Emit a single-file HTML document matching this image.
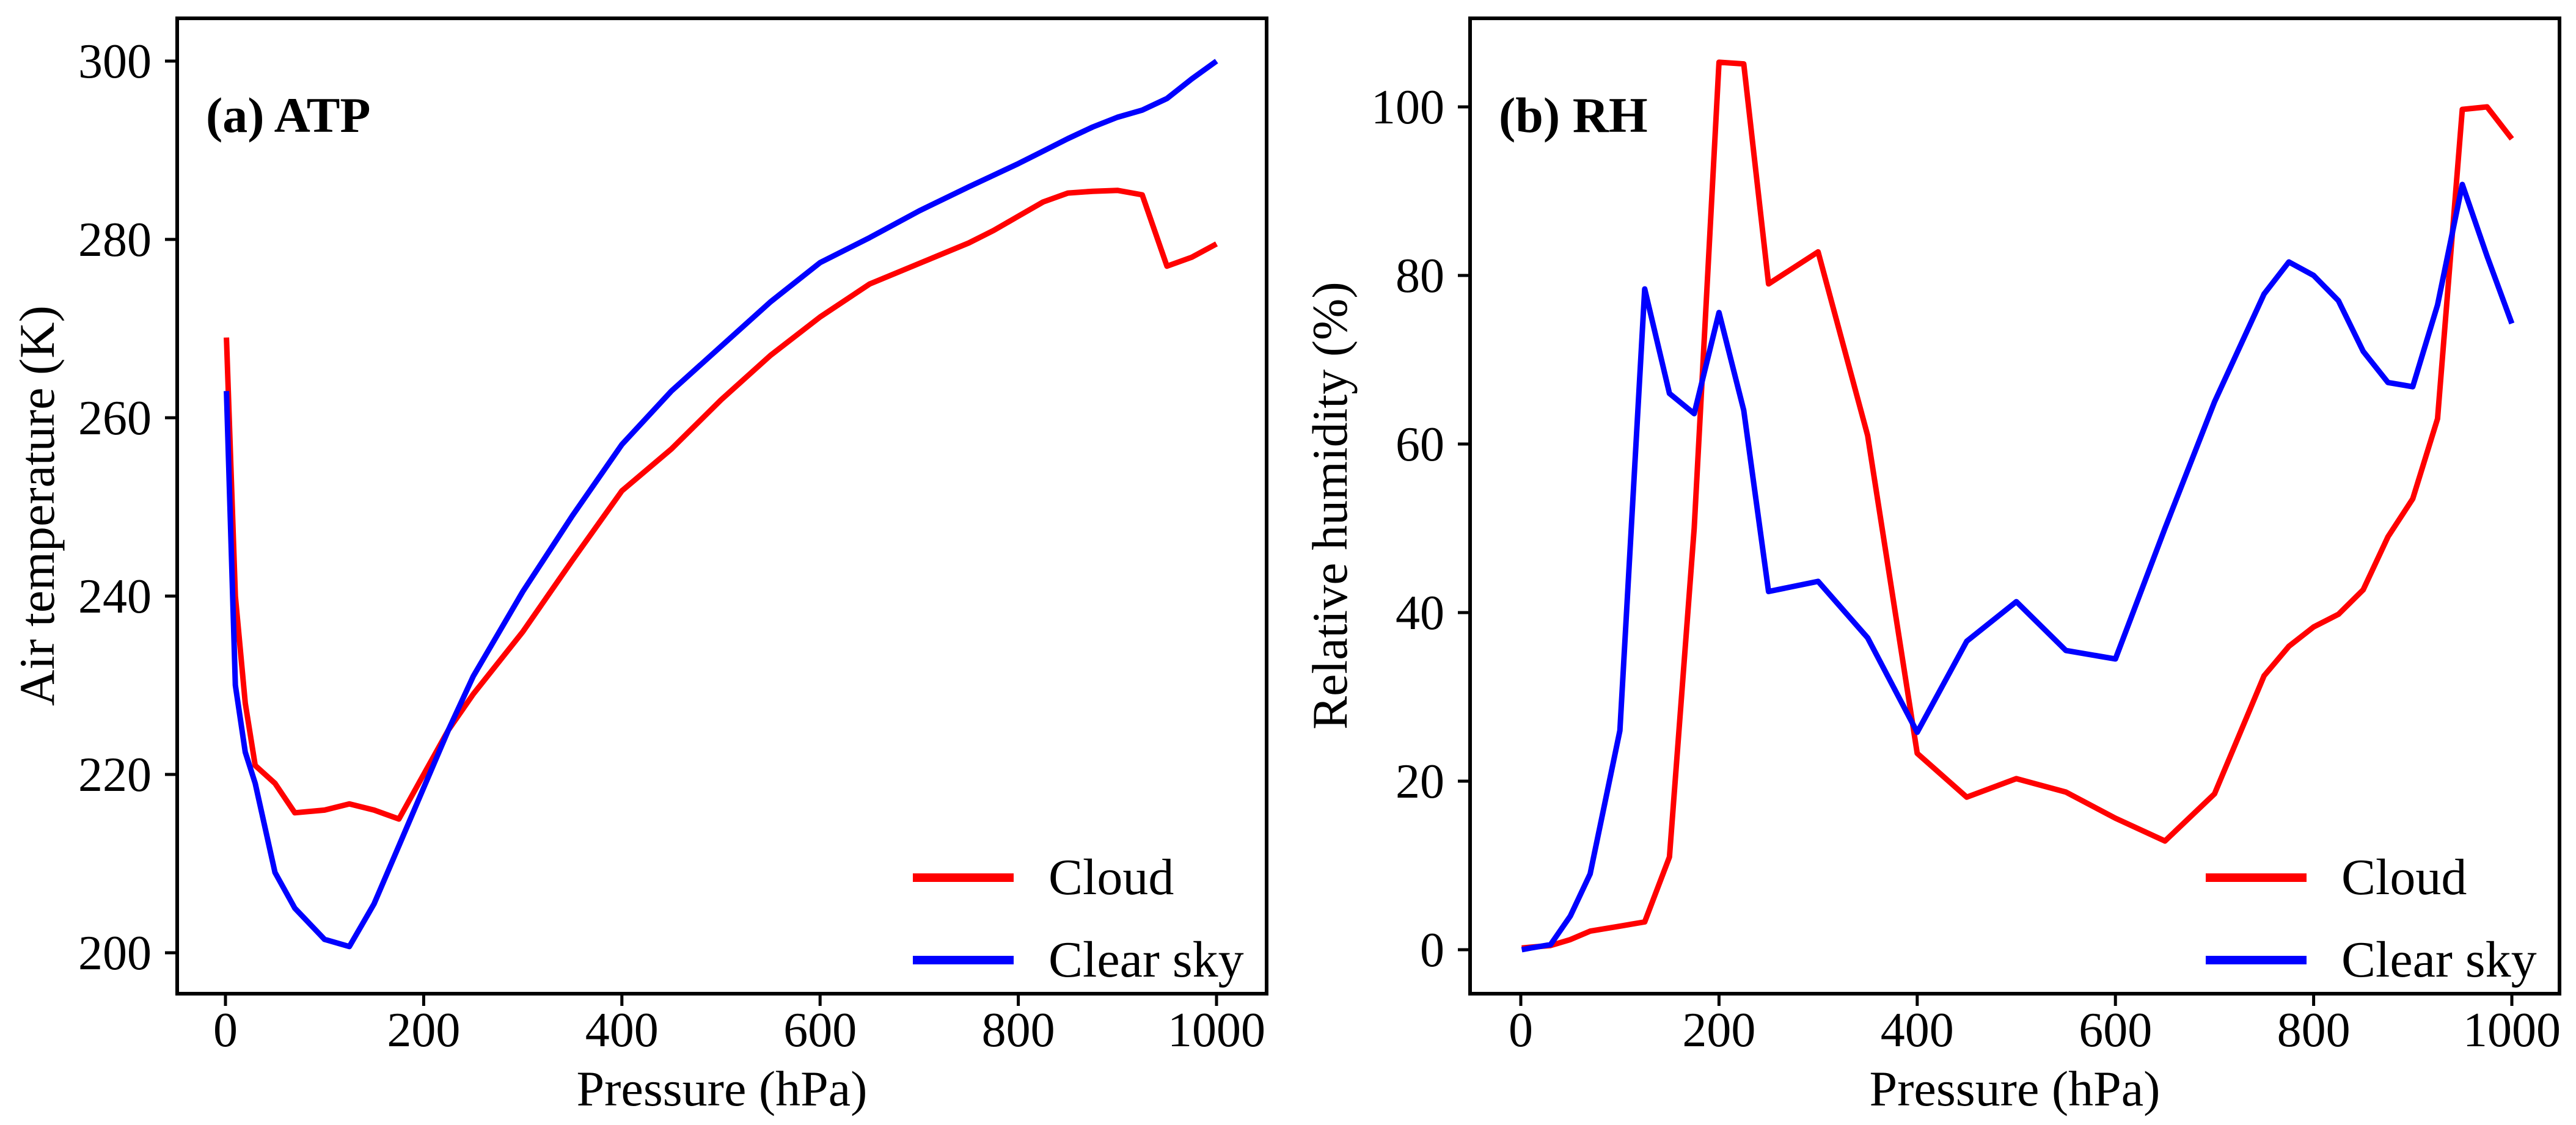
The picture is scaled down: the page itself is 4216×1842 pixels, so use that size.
<!DOCTYPE html>
<html><head><meta charset="utf-8"><style>
html,body{margin:0;padding:0;background:#fff;}
svg{display:block;}
svg text{font-family:"Liberation Serif","DejaVu Serif",serif;}
</style></head><body>
<svg id="chart" width="4216" height="1842" viewBox="0 0 4216 1842" xmlns="http://www.w3.org/2000/svg"></svg>
<script>
const presA = [1,10,20,30,50,70,100,125,150,175,200,225,250,300,350,400,450,500,550,600,650,700,750,775,800,825,850,875,900,925,950,975,1000];
const atpCloud = [269,240,228,221,219,215.7,216,216.7,216,215,220,225,229,236,244,251.8,256.5,262,267,271.3,275,277.3,279.6,281,282.6,284.2,285.2,285.4,285.5,285,277,278,279.5];
const atpClear = [263,230,222.5,219,209,205,201.5,200.7,205.5,212,218.5,225,231,240.5,249,257,263,268,273,277.4,280.2,283.2,285.9,287.2,288.5,289.9,291.3,292.6,293.7,294.5,295.8,298,300];
const presB = [1,10,30,50,70,100,125,150,175,200,225,250,300,350,400,450,500,550,600,650,700,750,775,800,825,850,875,900,925,950,975,1000];
const rhCloud = [0.2,0.3,0.5,1.2,2.2,2.8,3.3,11,50,105.3,105.1,79,82.8,61,23.3,18.1,20.3,18.7,15.6,12.9,18.5,32.5,36,38.3,39.8,42.7,49,53.5,63,99.7,100,96.2];
const rhClear = [0,0.2,0.6,4,9,26,78.4,66,63.6,75.6,64,42.5,43.7,37,25.8,36.6,41.3,35.5,34.5,50,65,77.8,81.6,80,77,71,67.3,66.8,76.5,90.8,82.3,74.3];
const xTicks = [0,200,400,600,800,1000];
const yTicksA = [200,220,240,260,280,300];
const yTicksB = [0,20,40,60,80,100];

const NS="http://www.w3.org/2000/svg";
const svg=document.getElementById('chart');
const FF='Liberation Serif, DejaVu Serif, serif';
function mk(tag,attrs,parent){const e=document.createElementNS(NS,tag);for(const k in attrs)e.setAttribute(k,attrs[k]);if(tag==='text')e.setAttribute('font-family',FF);(parent||svg).appendChild(e);return e;}

function panel(cfg){
  const g=mk('g',{});
  
  
  const L=cfg.left,R=cfg.right,T=30,B=1627;
  const x=v=>cfg.x0+(v)*1.622;
  const y=v=>cfg.y0+(v-cfg.ymin)*cfg.ys;
  cfg.series.forEach(s=>{
    const d=s.xs.map((p,i)=>(i?'L':'M')+x(p).toFixed(1)+','+y(s.ys[i]).toFixed(1)).join(' ');
    const p=mk('path',{d:d,fill:'none',stroke:s.color,'stroke-width':9,'stroke-linejoin':'round'},g);
    
    
  });
  const fr=mk('rect',{x:L,y:T,width:R-L,height:B-T,fill:'none',stroke:'#000','stroke-width':6},g);
  
  
  xTicks.forEach(t=>{
    mk('line',{x1:x(t),x2:x(t),y1:B,y2:B+20,stroke:'#000','stroke-width':5},g);
    const tx=mk('text',{x:x(t),y:1713,'font-size':80,'text-anchor':'middle'},g);
    tx.textContent=t;
    
    
  });
  cfg.yticks.forEach(t=>{
    mk('line',{x1:L-20,x2:L,y1:y(t),y2:y(t),stroke:'#000','stroke-width':5},g);
    const tx=mk('text',{x:L-42,y:y(t)+27,'font-size':80,'text-anchor':'end'},g);
    tx.textContent=t;
    
    
  });
  const xl=mk('text',{x:(L+R)/2,y:1810,'font-size':82,'text-anchor':'middle'},g);
  xl.textContent='Pressure (hPa)';
  
  
  const yl=mk('text',{x:0,y:0,'font-size':82,'text-anchor':'middle',transform:`translate(${cfg.ylx},828) rotate(-90)`},g);
  yl.textContent=cfg.ylabel;
  
  
  const ti=mk('text',{x:L+47,y:216,'font-size':82,'font-weight':'bold'},g);
  ti.textContent=cfg.title;
  
  
  const lx=R-579;
  cfg.series.forEach((s,i)=>{
    const ly=1437+i*135;
    const le=mk('g',{},g);
    
    
    mk('line',{x1:lx,x2:lx+165,y1:ly,y2:ly,stroke:s.color,'stroke-width':14},le);
    const t=mk('text',{x:lx+222,y:ly+27,'font-size':84},le);
    t.textContent=s.label;
  });
}
panel({name:'panel-atp',left:290,right:2073,x0:369,y0:1560,ymin:200,ys:-14.6,yticks:yTicksA,
  ylabel:'Air temperature (K)',ylx:88,title:'(a) ATP',
  series:[{name:'atp-cloud-line',label:'Cloud',color:'#ff0000',xs:presA,ys:atpCloud},
          {name:'atp-clear-line',label:'Clear sky',color:'#0000ff',xs:presA,ys:atpClear}]});
panel({name:'panel-rh',left:2406,right:4189,x0:2489,y0:1555,ymin:0,ys:-13.8,yticks:yTicksB,
  ylabel:'Relative humidity (%)',ylx:2204,title:'(b) RH',
  series:[{name:'rh-cloud-line',label:'Cloud',color:'#ff0000',xs:presB,ys:rhCloud},
          {name:'rh-clear-line',label:'Clear sky',color:'#0000ff',xs:presB,ys:rhClear}]});
</script>
</body></html>
